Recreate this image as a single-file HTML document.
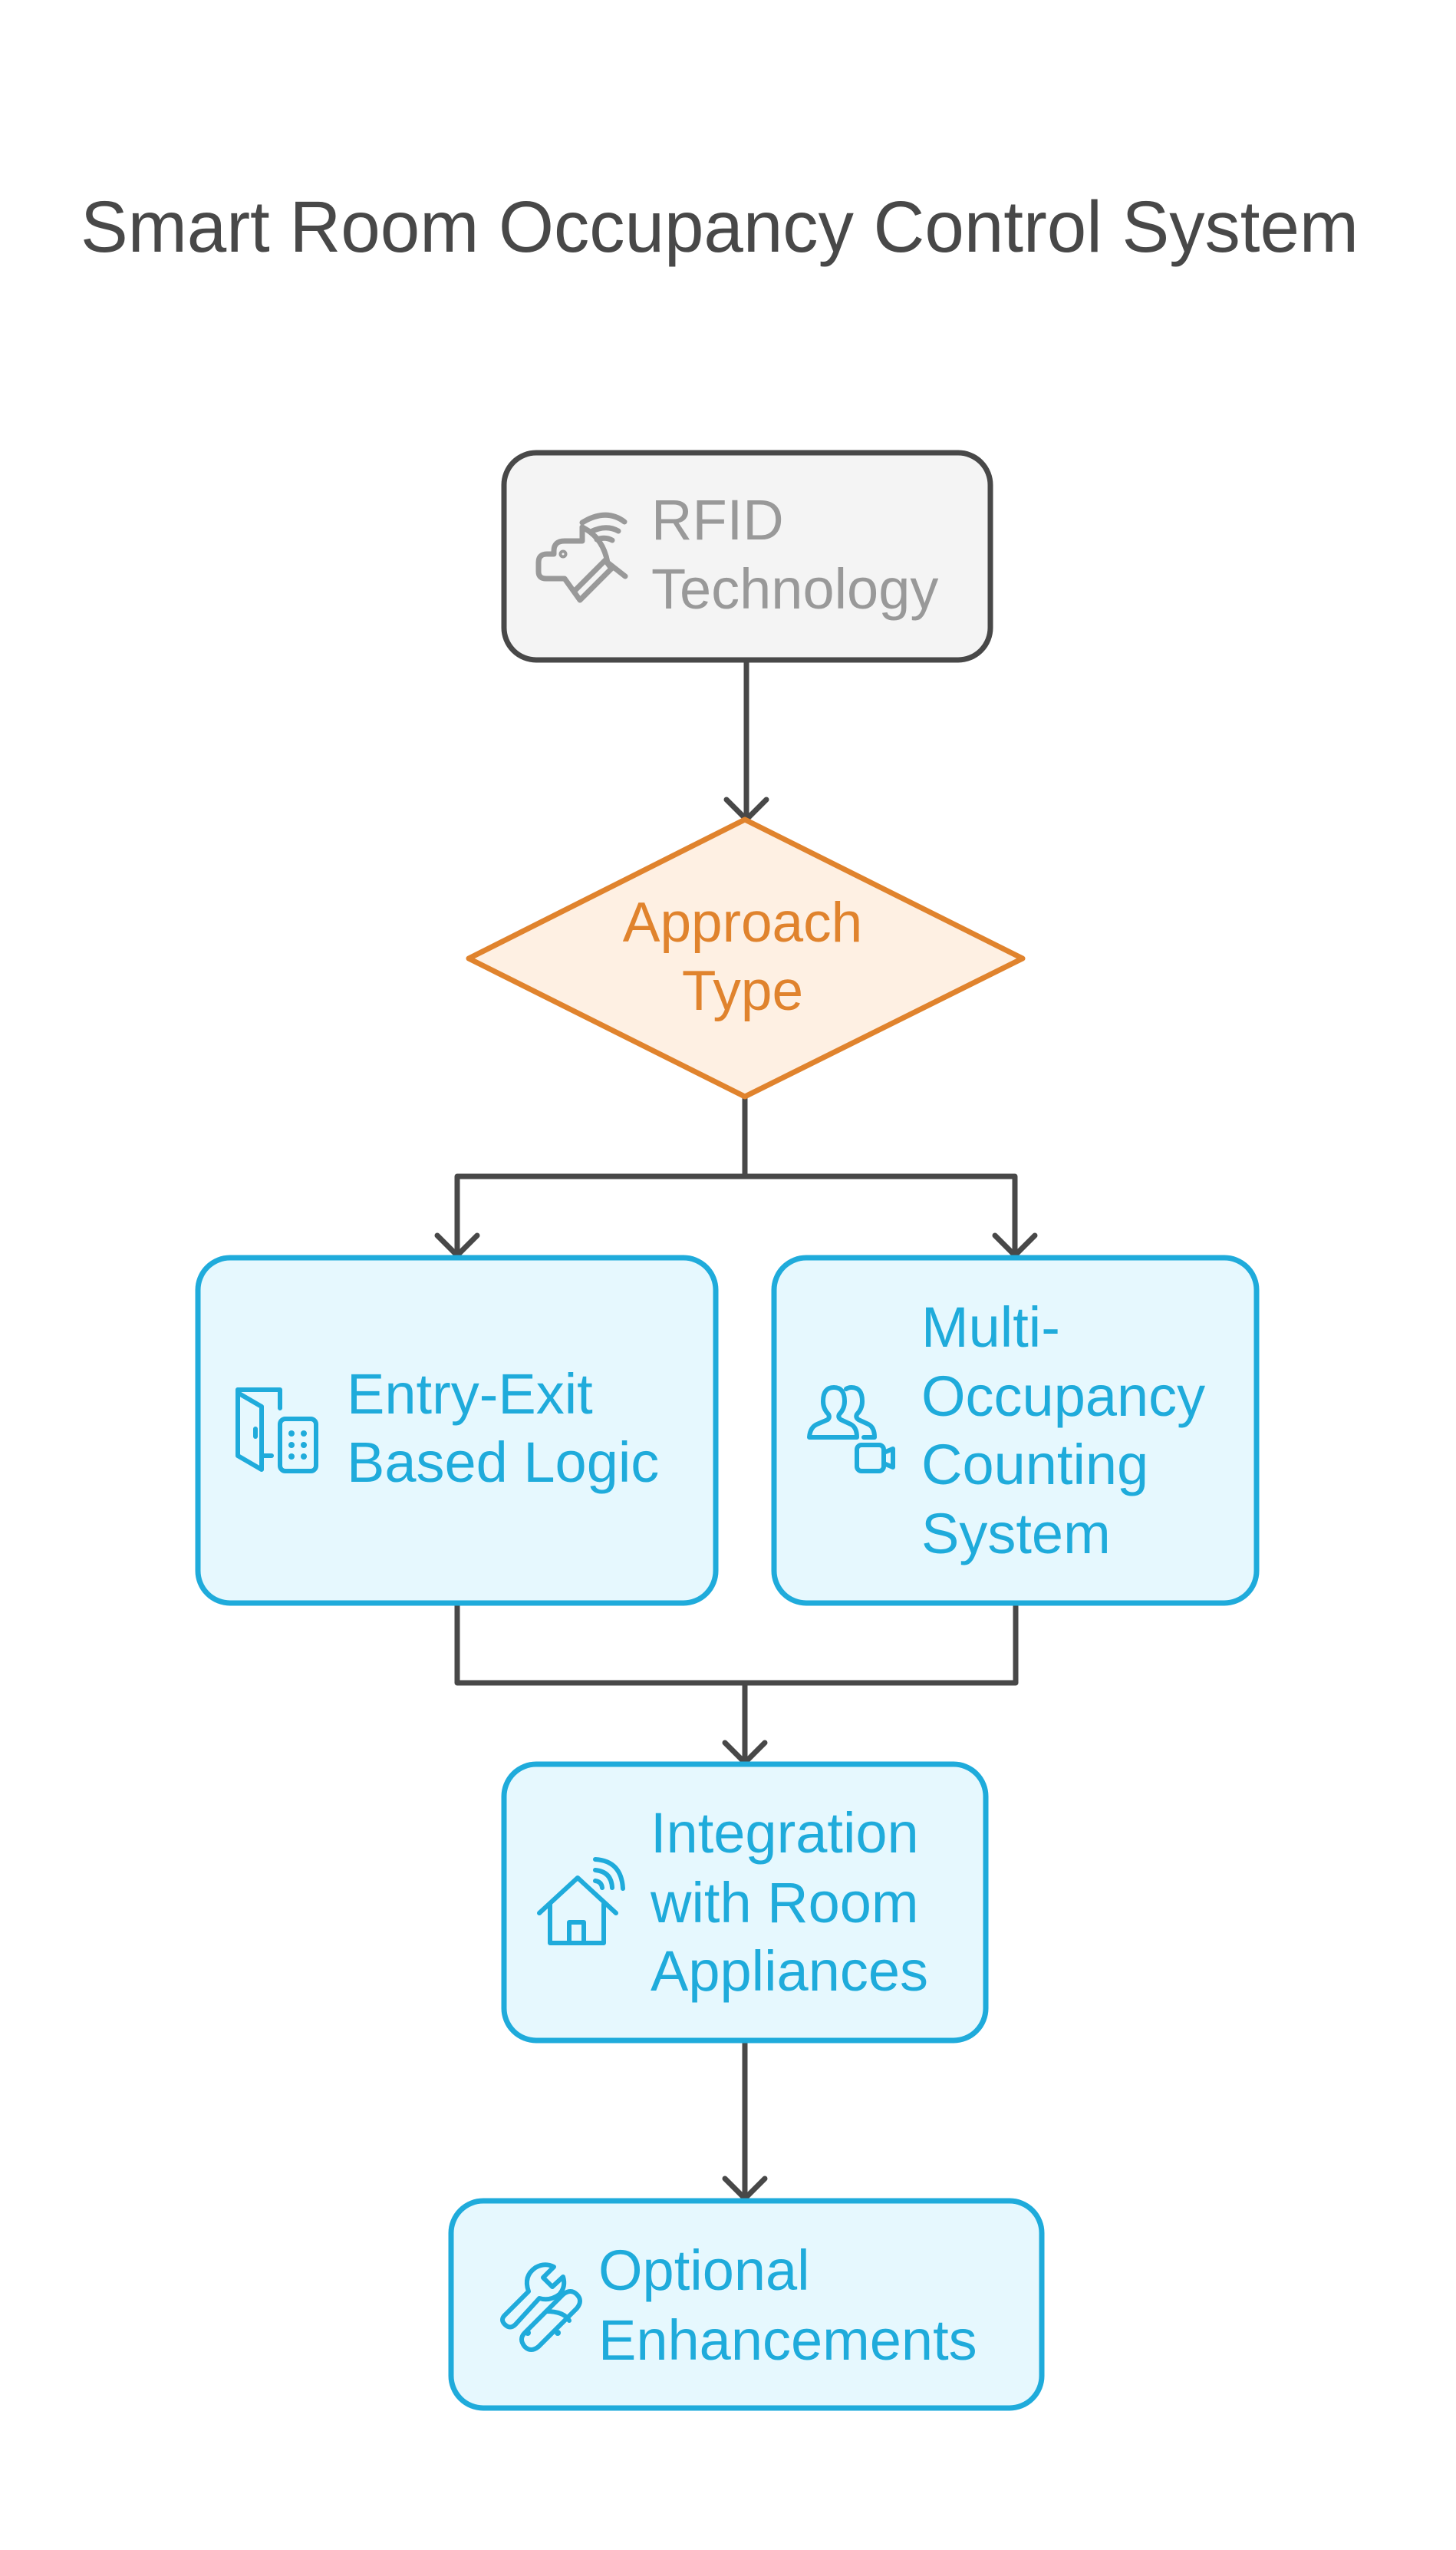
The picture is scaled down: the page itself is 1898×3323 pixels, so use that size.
<!DOCTYPE html>
<html><head><meta charset="utf-8"><style>
html,body{margin:0;padding:0;background:#fff;}
svg{display:block;}
text{font-family:"Liberation Sans",sans-serif;}
</style></head><body>
<svg width="1898" height="3323" viewBox="0 0 1898 3323" xmlns="http://www.w3.org/2000/svg">
<rect width="1898" height="3323" fill="#fff"/>
<text x="105" y="328" font-size="95" fill="#484848" textLength="1666" lengthAdjust="spacingAndGlyphs">Smart Room Occupancy Control System</text>

<g fill="none" stroke="#484848" stroke-width="7" stroke-linecap="round" stroke-linejoin="round">
<path d="M973 860 V1066"/><path d="M947 1042 L973 1068 L999 1042"/>
<path d="M971 1429 V1533 M596 1533 H1323 M596 1533 V1636 M1323 1533 V1636"/>
<path d="M570 1610 L596 1636 L622 1610"/><path d="M1297 1610 L1323 1636 L1349 1610"/>
<path d="M596 2089 V2193 H1324 V2089 M971 2193 V2297"/>
<path d="M945 2271 L971 2297 L997 2271"/>
<path d="M971 2659 V2865"/><path d="M945 2839 L971 2865 L997 2839"/>
</g>

<rect x="657" y="590" width="634" height="270" rx="42" fill="#f4f4f4" stroke="#484848" stroke-width="7"/>
<text x="849" y="703" font-size="74" fill="#999">RFID</text>
<text x="849" y="793" font-size="74" fill="#999">Technology</text>
<g fill="none" stroke="#999" stroke-width="7" stroke-linecap="round" stroke-linejoin="round">
<path d="M759 687 Q786 700 792 733 L815 751"/>
<path d="M759 687 V705 H736 Q722 705 722 718 V722 H713 Q702 722 702 733 V745 Q702 754 712 754 H736 L756 782 L797 741"/>
<path d="M750 769 L789 730 L797 741"/>
<path d="M759 681 Q790 662 814 680"/><path d="M770 693 Q790 683 806 692"/><path d="M778 703 Q789 699 798 704"/>
<circle cx="734" cy="722" r="2"/>
</g>

<polygon points="971,1068 1333,1249 971,1429 611,1249" fill="#fef0e3" stroke="#e0832d" stroke-width="7" stroke-linejoin="round"/>
<text x="968" y="1227" font-size="73" fill="#e0832d" text-anchor="middle">Approach</text>
<text x="968" y="1316" font-size="73" fill="#e0832d" text-anchor="middle">Type</text>

<g fill="#e6f8fe" stroke="#1fabdb" stroke-width="7">
<rect x="258" y="1639" width="675" height="450" rx="42"/>
<rect x="1009" y="1639" width="629" height="450" rx="42"/>
<rect x="657" y="2299" width="628" height="360" rx="42"/>
<rect x="588" y="2868" width="770" height="270" rx="42"/>
</g>
<g fill="#1fabdb" font-size="74">
<text x="452" y="1842">Entry-Exit</text>
<text x="452" y="1931">Based Logic</text>
<text x="1201" y="1755">Multi-</text>
<text x="1201" y="1845">Occupancy</text>
<text x="1201" y="1934">Counting</text>
<text x="1201" y="2024">System</text>
<text x="848" y="2414">Integration</text>
<text x="848" y="2505">with Room</text>
<text x="848" y="2594">Appliances</text>
<text x="780" y="2984">Optional</text>
<text x="780" y="3075">Enhancements</text>
</g>

<g fill="none" stroke="#1fabdb" stroke-width="6" stroke-linecap="round" stroke-linejoin="round">
<path d="M310 1811 V1897 L341 1915 V1833 L310 1815"/>
<path d="M310 1811 H365 V1835"/><path d="M333 1862 V1872"/><path d="M343 1897 H354"/>
<rect x="365" y="1849" width="47" height="68" rx="7"/>
<path d="M1055 1873 Q1056 1860 1065 1856 L1079 1850 Q1082 1847 1080 1843 Q1073 1836 1073 1826 Q1073 1808 1087 1808 Q1101 1808 1101 1826 Q1101 1836 1094 1843 Q1092 1847 1096 1850 L1109 1856 Q1117 1860 1117 1873 Z"/>
<path d="M1103 1810 Q1106 1808 1110 1808 Q1124 1808 1124 1826 Q1124 1836 1117 1843 Q1115 1847 1119 1850 L1132 1856 Q1140 1860 1140 1873 H1126"/>
<rect x="1117" y="1883" width="35" height="34" rx="6"/><path d="M1152 1893 L1164 1888 V1912 L1152 1907"/>
<path d="M703 2493 L753 2447 L803 2493"/>
<path d="M717 2481 V2532 H787 V2481"/>
<path d="M742 2532 V2505 H761 V2532"/>
<path d="M776 2423 Q810 2425 812 2461"/><path d="M776 2437 Q797 2439 798 2460"/><path d="M776 2451 Q784 2452 785 2460"/>
<path d="M658 3017 L689 2986 Q682 2966 698 2955 Q710 2948 722 2954 L708 2968 L720 2980 L734 2967 Q738 2980 729 2990 Q717 2999 703 2995 L672 3029 Q665 3036 658 3029 Q652 3023 658 3017 Z"/>
<path d="M684 3040 L734 2990 Q744 2982 752 2990 Q760 2998 752 3008 L702 3058 Q692 3066 684 3058 Q676 3048 684 3040 Z"/>
<path d="M712 3012 Q735 3012 742 3024"/>
</g>
<g fill="#1fabdb">
<circle cx="380" cy="1868" r="4"/><circle cx="396" cy="1868" r="4"/>
<circle cx="380" cy="1883" r="4"/><circle cx="396" cy="1883" r="4"/>
<circle cx="380" cy="1898" r="4"/><circle cx="396" cy="1898" r="4"/>
<circle cx="727" cy="3040" r="4"/><circle cx="688" cy="3040" r="4"/>
</g>
</svg>
</body></html>
